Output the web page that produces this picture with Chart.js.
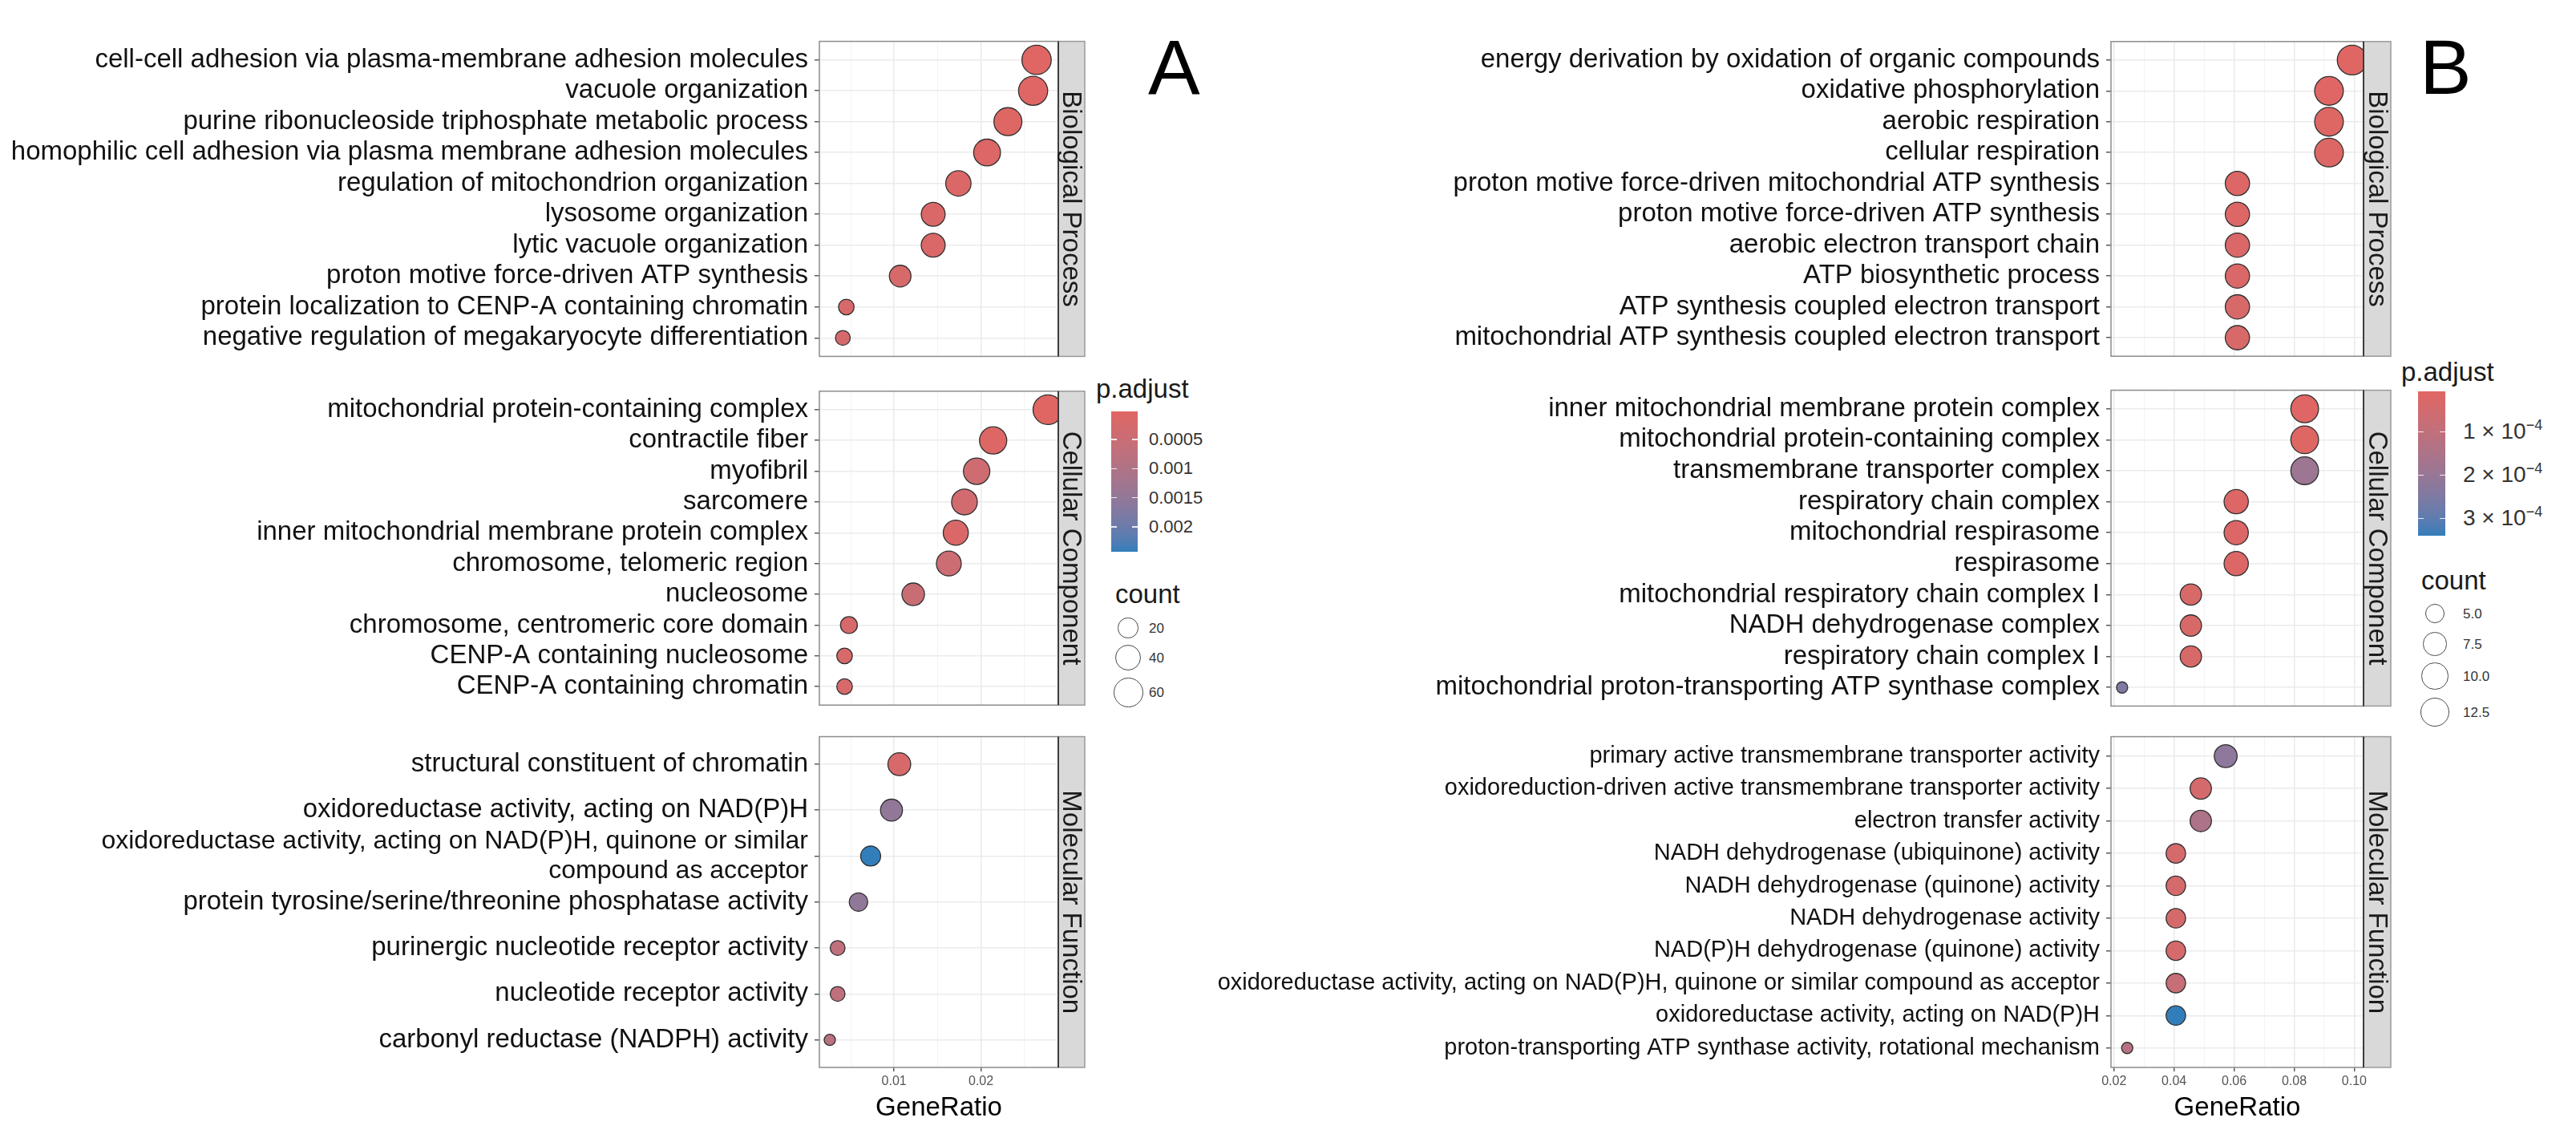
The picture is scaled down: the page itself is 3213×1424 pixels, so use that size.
<!DOCTYPE html>
<html>
<head>
<meta charset="utf-8">
<title>GO enrichment dot plots</title>
<script src="https://cdn.jsdelivr.net/npm/chart.js@4.4.1/dist/chart.umd.min.js"></script>
<style>
  body { margin: 0; background: #fff; }
  #wrap { position: relative; width: 3213px; height: 1424px; overflow: hidden; background: #fff;
          font-family: "Liberation Sans", Arial, Helvetica, sans-serif; }
  #wrap canvas { position: absolute; }
  .txt { position: absolute; white-space: nowrap; line-height: 1; }
</style>
</head>
<body>
<div id="wrap"></div>
<script>
// ---------- data: panel A ----------
const termsA_BP = [
    'cell-cell adhesion via plasma-membrane adhesion molecules',
    'vacuole organization',
    'purine ribonucleoside triphosphate metabolic process',
    'homophilic cell adhesion via plasma membrane adhesion molecules',
    'regulation of mitochondrion organization',
    'lysosome organization',
    'lytic vacuole organization',
    'proton motive force-driven ATP synthesis',
    'protein localization to CENP-A containing chromatin',
    'negative regulation of megakaryocyte differentiation'
];
const ratioA_BP = [0.0264, 0.0260, 0.0231, 0.0207, 0.0174, 0.0145, 0.0145, 0.0107, 0.0045, 0.0041];
const countA_BP = [58, 57, 51, 45, 38, 32, 32, 24, 10, 9];
const padjA_BP = [0.00002, 0.00003, 0.00005, 0.0001, 0.00012, 0.00015, 0.00015, 0.0002, 0.00022, 0.00025];

const termsA_CC = [
    'mitochondrial protein-containing complex',
    'contractile fiber',
    'myofibril',
    'sarcomere',
    'inner mitochondrial membrane protein complex',
    'chromosome, telomeric region',
    'nucleosome',
    'chromosome, centromeric core domain',
    'CENP-A containing nucleosome',
    'CENP-A containing chromatin'
];
const ratioA_CC = [0.0277, 0.0214, 0.0195, 0.0181, 0.0171, 0.0163, 0.0122, 0.0048, 0.0043, 0.0043];
const countA_CC = [60, 47, 43, 40, 37, 36, 27, 12, 10, 10];
const padjA_CC = [0.000014, 0.00008, 0.0004, 0.00035, 0.00015, 0.00045, 0.0005, 0.0002, 0.0002, 0.0002];

const termsA_MF = [
    'structural constituent of chromatin',
    'oxidoreductase activity, acting on NAD(P)H',
    'oxidoreductase activity, acting on NAD(P)H, quinone or similar\ncompound as acceptor',
    'protein tyrosine/serine/threonine phosphatase activity',
    'purinergic nucleotide receptor activity',
    'nucleotide receptor activity',
    'carbonyl reductase (NADPH) activity'
];
const ratioA_MF = [0.0106, 0.0097, 0.0073, 0.0059, 0.0035, 0.0035, 0.0026];
const countA_MF = [28, 25, 19, 15, 9, 9, 7];
const padjA_MF = [0.0002, 0.0015, 0.00243, 0.0015, 0.0007, 0.0007, 0.0008];

// ---------- data: panel B ----------
const termsB_BP = [
    'energy derivation by oxidation of organic compounds',
    'oxidative phosphorylation',
    'aerobic respiration',
    'cellular respiration',
    'proton motive force-driven mitochondrial ATP synthesis',
    'proton motive force-driven ATP synthesis',
    'aerobic electron transport chain',
    'ATP biosynthetic process',
    'ATP synthesis coupled electron transport',
    'mitochondrial ATP synthesis coupled electron transport'
];
const ratioB_BP = [0.0993, 0.0916, 0.0916, 0.0916, 0.0611, 0.0611, 0.0611, 0.0611, 0.0611, 0.0611];
const countB_BP = [13, 12, 12, 12, 8, 8, 8, 8, 8, 8];
const padjB_BP = [0.000007, 0.00001, 0.000012, 0.000015, 0.00002, 0.00002, 0.000025, 0.000025, 0.00003, 0.00003];

const termsB_CC = [
    'inner mitochondrial membrane protein complex',
    'mitochondrial protein-containing complex',
    'transmembrane transporter complex',
    'respiratory chain complex',
    'mitochondrial respirasome',
    'respirasome',
    'mitochondrial respiratory chain complex I',
    'NADH dehydrogenase complex',
    'respiratory chain complex I',
    'mitochondrial proton-transporting ATP synthase complex'
];
const ratioB_CC = [0.0835, 0.0835, 0.0835, 0.0607, 0.0607, 0.0607, 0.0456, 0.0456, 0.0456, 0.0227];
const countB_CC = [11, 11, 11, 8, 8, 8, 6, 6, 6, 3];
const padjB_CC = [0.00001, 0.000012, 0.00019, 0.00002, 0.00002, 0.00002, 0.00003, 0.00003, 0.00003, 0.00025];

const termsB_MF = [
    'primary active transmembrane transporter activity',
    'oxidoreduction-driven active transmembrane transporter activity',
    'electron transfer activity',
    'NADH dehydrogenase (ubiquinone) activity',
    'NADH dehydrogenase (quinone) activity',
    'NADH dehydrogenase activity',
    'NAD(P)H dehydrogenase (quinone) activity',
    'oxidoreductase activity, acting on NAD(P)H, quinone or similar compound as acceptor',
    'oxidoreductase activity, acting on NAD(P)H',
    'proton-transporting ATP synthase activity, rotational mechanism'
];
const ratioB_MF = [0.0572, 0.0489, 0.0489, 0.0406, 0.0406, 0.0406, 0.0406, 0.0406, 0.0406, 0.0244];
const countB_MF = [7, 6, 6, 5, 5, 5, 5, 5, 5, 3];
const padjB_MF = [0.00022, 0.00004, 0.00015, 0.00004, 0.00004, 0.00004, 0.00004, 0.00008, 0.00034, 0.00012];

// ---------- axis / legend breaks ----------
const facetNames = ['Biological Process', 'Cellular Component', 'Molecular Function'];
const xTicksA = [0.005, 0.01, 0.015, 0.02, 0.025];
const xMajorA = [0.01, 0.02];
const xTicksB = [0.02, 0.03, 0.04, 0.05, 0.06, 0.07, 0.08, 0.09, 0.10];
const xMajorB = [0.02, 0.04, 0.06, 0.08, 0.10];
const padjBreaksA = [0.0005, 0.001, 0.0015, 0.002];
const padjBreaksB = [0.0001, 0.0002, 0.0003];
const countBreaksA = [20, 40, 60];
const countBreaksB = [5, 7.5, 10, 12.5];

// ---------- layout ----------
const FONT = '"Liberation Sans", Arial, Helvetica, sans-serif';
const FACET_Y = [[36, 460], [472, 895], [907, 1331]];
const LOW_COL = '#e06663';
const HIGH_COL = '#327eba';

Chart.defaults.font.family = FONT;
const wrap = document.getElementById('wrap');

// Lab interpolation between low and high colour (as ggplot's gradient does)
const WHITE = [0.95047, 1, 1.08883];
function hex2rgb(h) { return [1, 3, 5].map(i => parseInt(h.substr(i, 2), 16)); }
function toLin(c) { c /= 255; return c <= 0.04045 ? c / 12.92 : Math.pow((c + 0.055) / 1.055, 2.4); }
function fromLin(c) {
    const v = c <= 0.0031308 ? 12.92 * c : 1.055 * Math.pow(c, 1 / 2.4) - 0.055;
    return Math.round(Math.min(1, Math.max(0, v)) * 255);
}
function fLab(t) { return t > 216 / 24389 ? Math.cbrt(t) : (24389 / 27 * t + 16) / 116; }
function fInv(t) { return t * t * t > 216 / 24389 ? t * t * t : (116 * t - 16) / (24389 / 27); }
function rgb2lab(rgb) {
    const [r, g, b] = rgb.map(toLin);
    const X = (0.4124564 * r + 0.3575761 * g + 0.1804375 * b) / WHITE[0];
    const Y = 0.2126729 * r + 0.7151522 * g + 0.0721750 * b;
    const Z = (0.0193339 * r + 0.1191920 * g + 0.9503041 * b) / WHITE[2];
    return [116 * fLab(Y) - 16, 500 * (fLab(X) - fLab(Y)), 200 * (fLab(Y) - fLab(Z))];
}
function lab2rgb(L, a, b) {
    const fy = (L + 16) / 116, fx = fy + a / 500, fz = fy - b / 200;
    const X = fInv(fx) * WHITE[0], Y = fInv(fy), Z = fInv(fz) * WHITE[2];
    const r = 3.2404542 * X - 1.5371385 * Y - 0.4985314 * Z;
    const g = -0.9692660 * X + 1.8760108 * Y + 0.0415560 * Z;
    const bl = 0.0556434 * X - 0.2040259 * Y + 1.0572252 * Z;
    return 'rgb(' + [r, g, bl].map(fromLin).join(',') + ')';
}
const labLow = rgb2lab(hex2rgb(LOW_COL));
const labHigh = rgb2lab(hex2rgb(HIGH_COL));
function rampColor(t) {
    t = Math.min(1, Math.max(0, t));
    return lab2rgb(...labLow.map((v, i) => v + (labHigh[i] - v) * t));
}

// ggplot-style area scale: diameter grows with sqrt of rescaled count
function bubbleRadius(count, size) {
    const t = Math.sqrt(Math.max(0, (count - size.cmin) / (size.cmax - size.cmin)));
    return (size.dmin + (size.dmax - size.dmin) * t) / 2;
}

// facet strip + panel border
const facetStrip = {
    id: 'facetStrip',
    afterDraw(chart, args, opts) {
        const { ctx, chartArea: a } = chart;
        const h = a.bottom - a.top;
        ctx.save();
        ctx.fillStyle = '#d9d9d9';
        ctx.fillRect(a.right, a.top, opts.width, h);
        ctx.strokeStyle = '#9a9a9a';
        ctx.lineWidth = 1.5;
        ctx.strokeRect(a.right, a.top, opts.width, h);
        ctx.strokeStyle = '#8c8c8c';
        ctx.strokeRect(a.left, a.top, a.right - a.left, h);
        ctx.strokeStyle = '#3c3c3c';
        ctx.lineWidth = 2;
        ctx.beginPath();
        ctx.moveTo(a.right, a.top);
        ctx.lineTo(a.right, a.bottom);
        ctx.stroke();
        ctx.translate(a.right + opts.width / 2, (a.top + a.bottom) / 2);
        ctx.rotate(Math.PI / 2);
        ctx.fillStyle = '#1a1a1a';
        ctx.font = '33px ' + FONT;
        ctx.textAlign = 'center';
        ctx.textBaseline = 'middle';
        ctx.fillText(opts.label, 0, 1);
        ctx.restore();
    }
};

function makeFacet(panel, facet, fi) {
    const g = panel.geom;
    const yr = FACET_Y[fi];
    const isBottom = fi === FACET_Y.length - 1;
    const top = yr[0] - 4;
    const bottom = isBottom ? 1424 : yr[1] + 4;
    const w = g.stripRight - g.canvasLeft + 4;
    const h = bottom - top;
    const canvas = document.createElement('canvas');
    canvas.width = w;
    canvas.height = h;
    canvas.style.left = g.canvasLeft + 'px';
    canvas.style.top = top + 'px';
    canvas.style.width = w + 'px';
    canvas.style.height = h + 'px';
    wrap.appendChild(canvas);

    const n = facet.terms.length;
    const isMajor = v => panel.xMajor.includes(v);

    new Chart(canvas.getContext('2d'), {
        type: 'bubble',
        data: {
            datasets: [{
                data: facet.ratio.map((v, i) => ({ x: v, y: i, r: bubbleRadius(facet.count[i], panel.size) })),
                backgroundColor: facet.padj.map(p => rampColor((p - panel.pmin) / (panel.pmax - panel.pmin))),
                borderColor: '#303030',
                borderWidth: 1.3,
                clip: 0
            }]
        },
        options: {
            responsive: false,
            animation: false,
            events: [],
            layout: { padding: { left: 0, right: g.stripRight - g.plotRight + 4, top: 4, bottom: isBottom ? 0 : 4 } },
            plugins: {
                legend: { display: false },
                tooltip: { enabled: false },
                facetStrip: { label: facetNames[fi], width: g.stripRight - g.plotRight }
            },
            scales: {
                x: {
                    type: 'linear',
                    bounds: 'data',
                    min: panel.xMin,
                    max: panel.xMax,
                    afterBuildTicks: s => { s.ticks = panel.xTicks.map(v => ({ value: v })); },
                    afterFit: s => {
                        s.height = isBottom ? 1424 - yr[1] : 0;
                        s.paddingLeft = 0; s.paddingRight = 0;
                    },
                    border: { display: false },
                    grid: {
                        color: c => isMajor(c.tick.value) ? '#ebebeb' : '#f3f3f3',
                        lineWidth: c => isMajor(c.tick.value) ? 1.6 : 1,
                        drawTicks: isBottom,
                        tickLength: 5,
                        tickColor: c => isMajor(c.tick.value) ? '#333' : 'rgba(0,0,0,0)',
                        tickWidth: 1.2
                    },
                    ticks: {
                        display: isBottom,
                        autoSkip: false,
                        maxRotation: 0,
                        padding: 3,
                        color: '#555',
                        font: { size: 16 },
                        callback: v => isMajor(v) ? v.toFixed(2) : ''
                    },
                    title: {
                        display: isBottom,
                        text: 'GeneRatio',
                        color: '#000',
                        font: { size: 33 },
                        padding: { top: 0, bottom: 22 }
                    }
                },
                y: {
                    type: 'linear',
                    bounds: 'data',
                    reverse: true,
                    min: -0.6,
                    max: n - 0.4,
                    afterBuildTicks: s => { s.ticks = facet.terms.map((t, i) => ({ value: i })); },
                    afterFit: s => {
                        s.width = g.plotLeft - g.canvasLeft;
                        s.paddingTop = 0; s.paddingBottom = 0;
                    },
                    border: { display: false },
                    grid: { color: '#ebebeb', lineWidth: 1.6, tickLength: 6, tickColor: '#333', tickWidth: 1.2 },
                    ticks: {
                        autoSkip: false,
                        padding: 8,
                        color: '#111',
                        font: c => {
                            const t = facet.terms[c.tick ? c.tick.value : 0] || '';
                            return { size: t.includes('\n') ? 32 : facet.fontSize, lineHeight: 1.15 };
                        },
                        callback: v => {
                            const t = facet.terms[v];
                            return t.includes('\n') ? t.split('\n') : t;
                        }
                    }
                }
            }
        },
        plugins: [facetStrip]
    });
}

function addText(html, left, top, size, color, extra) {
    const d = document.createElement('div');
    d.className = 'txt';
    d.innerHTML = html;
    d.style.left = left + 'px';
    d.style.top = top + 'px';
    d.style.fontSize = size + 'px';
    d.style.color = color;
    if (extra) Object.assign(d.style, extra);
    wrap.appendChild(d);
    return d;
}

function addLegend(panel) {
    const L = panel.legend;
    // p.adjust title + colourbar
    addText('p.adjust', L.titleX, L.padjBaseline - 0.8465 * 33, 33, '#1a1a1a');
    const stops = [];
    for (let i = 0; i <= 20; i++) stops.push(rampColor(i / 20) + ' ' + (i * 5) + '%');
    const bar = document.createElement('div');
    Object.assign(bar.style, {
        position: 'absolute', left: L.barX + 'px', top: L.barTop + 'px',
        width: L.barW + 'px', height: L.barH + 'px',
        background: 'linear-gradient(to bottom, ' + stops.join(', ') + ')'
    });
    wrap.appendChild(bar);
    panel.padjBreaks.forEach(v => {
        const y = L.barTop + (v - panel.pmin) / (panel.pmax - panel.pmin) * L.barH;
        [0, L.barW - 7].forEach(dx => {
            const tk = document.createElement('div');
            Object.assign(tk.style, {
                position: 'absolute', left: (L.barX + dx) + 'px', top: (y - 0.75) + 'px',
                width: '7px', height: '1.5px', background: 'rgba(255,255,255,0.85)'
            });
            wrap.appendChild(tk);
        });
        addText(panel.padjLabel(v), L.labelX, y, panel.padjFont, '#333', { transform: 'translateY(-50%)' });
    });
    // count title + size keys
    addText('count', L.countX, L.countBaseline - 0.8465 * 33, 33, '#1a1a1a');
    panel.countBreaks.forEach((b, i) => {
        const d = 2 * bubbleRadius(b, panel.size);
        const cy = L.keyY[i];
        const c = document.createElement('div');
        Object.assign(c.style, {
            position: 'absolute', left: (L.keyX - d / 2) + 'px', top: (cy - d / 2) + 'px',
            width: d + 'px', height: d + 'px', boxSizing: 'border-box',
            border: '1.4px solid #4a4a4a', borderRadius: '50%', background: '#fff'
        });
        wrap.appendChild(c);
        addText(panel.countLabel(b), L.labelX, cy, 17, '#333', { transform: 'translateY(-50%)' });
    });
}

function sciLabel(v) {
    const e = Math.floor(Math.log10(v) + 1e-9);
    const m = Math.round(v / Math.pow(10, e) * 10) / 10;
    return m + ' &times; 10<sup style="font-size:18px;vertical-align:11px;line-height:0;">&minus;' + Math.abs(e) + '</sup>';
}

function allOf(arrs) { return [].concat(...arrs); }

const panels = [
    {
        geom: { canvasLeft: 0, plotLeft: 1022, plotRight: 1320, stripRight: 1353 },
        facets: [
            { terms: termsA_BP, ratio: ratioA_BP, count: countA_BP, padj: padjA_BP, fontSize: 33 },
            { terms: termsA_CC, ratio: ratioA_CC, count: countA_CC, padj: padjA_CC, fontSize: 33 },
            { terms: termsA_MF, ratio: ratioA_MF, count: countA_MF, padj: padjA_MF, fontSize: 33 }
        ],
        xMin: 0.0014, xMax: 0.0289, xTicks: xTicksA, xMajor: xMajorA,
        padjBreaks: padjBreaksA, countBreaks: countBreaksA,
        padjLabel: v => String(v), countLabel: b => String(b), padjFont: 22,
        sizeRange: [14, 37],
        legend: { titleX: 1367, padjBaseline: 496, barX: 1386, barTop: 513, barW: 33, barH: 175,
                  labelX: 1433, countX: 1391, countBaseline: 752, keyX: 1407, keyY: [783, 820, 863] },
        letter: { text: 'A', x: 1432 }
    },
    {
        geom: { canvasLeft: 1440, plotLeft: 2633, plotRight: 2948, stripRight: 2982 },
        facets: [
            { terms: termsB_BP, ratio: ratioB_BP, count: countB_BP, padj: padjB_BP, fontSize: 33 },
            { terms: termsB_CC, ratio: ratioB_CC, count: countB_CC, padj: padjB_CC, fontSize: 33 },
            { terms: termsB_MF, ratio: ratioB_MF, count: countB_MF, padj: padjB_MF, fontSize: 29 }
        ],
        xMin: 0.0190, xMax: 0.1031, xTicks: xTicksB, xMajor: xMajorB,
        padjBreaks: padjBreaksB, countBreaks: countBreaksB,
        padjLabel: sciLabel, countLabel: b => b.toFixed(1), padjFont: 28,
        sizeRange: [14, 37],
        legend: { titleX: 2995, padjBaseline: 475, barX: 3016, barTop: 488, barW: 34, barH: 180,
                  labelX: 3072, countX: 3020, countBaseline: 735, keyX: 3037, keyY: [765, 803, 843, 888] },
        letter: { text: 'B', x: 3018 }
    }
];

panels.forEach(p => {
    const counts = allOf(p.facets.map(f => f.count));
    const padjs = allOf(p.facets.map(f => f.padj));
    p.size = { cmin: Math.min(...counts), cmax: Math.max(...counts), dmin: p.sizeRange[0], dmax: p.sizeRange[1] };
    p.pmin = Math.min(...padjs);
    p.pmax = Math.max(...padjs);
    p.facets.forEach((f, i) => makeFacet(p, f, i));
    addLegend(p);
    addText(p.letter.text, p.letter.x, 117 - 0.8465 * 97, 97, '#000');
});
</script>
</body>
</html>
